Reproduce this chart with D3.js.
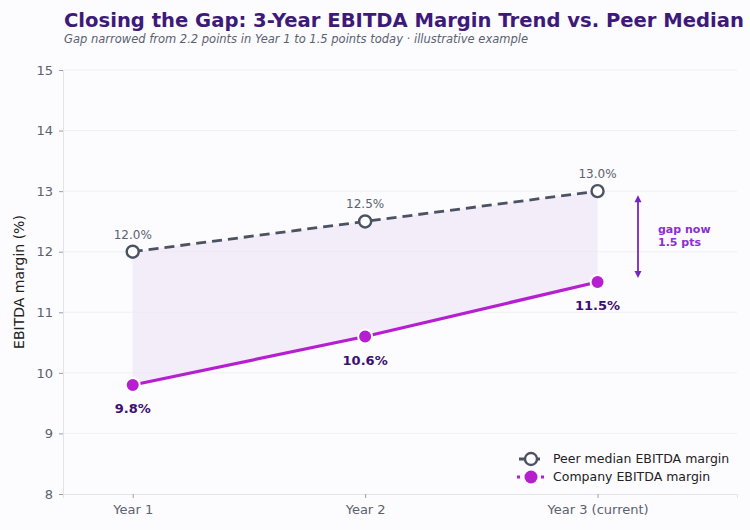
<!DOCTYPE html>
<html><head><meta charset="utf-8">
<script src="https://cdn.jsdelivr.net/npm/d3@7"></script>
<style>body{margin:0;background:#fcfbfd;font-family:"DejaVu Sans",sans-serif}</style>
</head><body><svg id="c" width="750" height="530"></svg>
<script>
const categories = ["Year 1","Year 2","Year 3 (current)"];
const peerValues = [12.0,12.5,13.0];
const companyValues = [9.8,10.6,11.5];
const yTicks = [8,9,10,11,12,13,14,15];

const svg = d3.select("#c");
const x = d3.scaleLinear().domain([-0.3,2.6]).range([63,737]);
const y = d3.scaleLinear().domain([8,15]).range([494,70]);

svg.append("rect").attr("width",750).attr("height",530).attr("fill","#fcfbfd");
svg.append("g").selectAll("line").data(yTicks.slice(1)).join("line")
  .attr("x1",63).attr("x2",737).attr("y1",d=>y(d)).attr("y2",d=>y(d))
  .attr("stroke","#eeecf2").attr("stroke-width",0.8);
const ya = svg.append("g").attr("transform","translate(63,0)").call(d3.axisLeft(y).tickValues(yTicks).tickSize(4).tickPadding(6).tickFormat(d3.format("d")));
const xa = svg.append("g").attr("transform","translate(0,494)").call(d3.axisBottom(x).tickValues([0,1,2]).tickSize(4).tickPadding(7).tickFormat(i=>categories[i]));
[ya,xa].forEach(a=>{a.select(".domain").attr("stroke","#e2e4ea");a.selectAll(".tick line").attr("stroke","#9aa0aa");
  a.selectAll("text").attr("fill","#5b6270").attr("font-size",13).attr("font-family","DejaVu Sans");});
svg.append("text").attr("transform","translate(24,282) rotate(-90)").attr("text-anchor","middle")
  .attr("font-size",14).attr("fill","#222").text("EBITDA margin (%)");

const idx = d3.range(categories.length);
svg.append("path").datum(idx).attr("fill","#ece2f6").attr("opacity",0.6)
  .attr("d",d3.area().x(i=>x(i)).y0(i=>y(companyValues[i])).y1(i=>y(peerValues[i])));

svg.append("path").datum(idx).attr("fill","none").attr("stroke","#4b5262").attr("stroke-width",2.8)
  .attr("stroke-dasharray","10,6").attr("d",d3.line().x(i=>x(i)).y(i=>y(peerValues[i])));
svg.append("g").selectAll("circle").data(idx).join("circle").attr("cx",i=>x(i)).attr("cy",i=>y(peerValues[i]))
  .attr("r",6).attr("fill","#fff").attr("stroke","#4b5262").attr("stroke-width",2.4);
svg.append("g").selectAll("text").data(idx).join("text").attr("x",i=>x(i)).attr("y",i=>y(peerValues[i])-13)
  .attr("text-anchor","middle").attr("font-size",12).attr("fill","#5b6270").text(i=>peerValues[i].toFixed(1)+"%");

svg.append("path").datum(idx).attr("fill","none").attr("stroke","#b51fd0").attr("stroke-width",3.2)
  .attr("d",d3.line().x(i=>x(i)).y(i=>y(companyValues[i])));
svg.append("g").selectAll("circle").data(idx).join("circle").attr("cx",i=>x(i)).attr("cy",i=>y(companyValues[i]))
  .attr("r",7).attr("fill","#b51fd0").attr("stroke","#fff").attr("stroke-width",2);
svg.append("g").selectAll("text").data(idx).join("text").attr("x",i=>x(i)).attr("y",i=>y(companyValues[i])+28)
  .attr("text-anchor","middle").attr("font-size",13).attr("font-weight","bold").attr("fill","#3b1070").text(i=>companyValues[i].toFixed(1)+"%");

const ax = 638, c = "#7427c0";
svg.append("line").attr("x1",ax).attr("x2",ax).attr("y1",y(13)+6).attr("y2",y(11.5)-6).attr("stroke",c).attr("stroke-width",1.8);
svg.append("path").attr("d",`M${ax-3.5},${y(13)+11}L${ax},${y(13)+4}L${ax+3.5},${y(13)+11}Z`).attr("fill",c);
svg.append("path").attr("d",`M${ax-3.5},${y(11.5)-11}L${ax},${y(11.5)-4}L${ax+3.5},${y(11.5)-11}Z`).attr("fill",c);
svg.append("text").attr("x",658).attr("y",233).attr("font-size",11).attr("font-weight","bold").attr("fill","#8a2fd0").text("gap now");
svg.append("text").attr("x",658).attr("y",246).attr("font-size",11).attr("font-weight","bold").attr("fill","#8a2fd0").text("1.5 pts");

const lg = svg.append("g");
lg.append("line").attr("x1",519).attr("x2",543).attr("y1",459).attr("y2",459).attr("stroke","#4b5262").attr("stroke-width",2.8).attr("stroke-dasharray","8,5");
lg.append("circle").attr("cx",531).attr("cy",459).attr("r",6).attr("fill","#fff").attr("stroke","#4b5262").attr("stroke-width",2.4);
lg.append("line").attr("x1",517).attr("x2",545).attr("y1",477).attr("y2",477).attr("stroke","#b51fd0").attr("stroke-width",3.2).attr("stroke-dasharray","3,5");
lg.append("circle").attr("cx",531).attr("cy",477).attr("r",6.5).attr("fill","#b51fd0");
lg.append("text").attr("x",553).attr("y",463).attr("font-size",12.5).attr("fill","#222").text("Peer median EBITDA margin");
lg.append("text").attr("x",553).attr("y",481).attr("font-size",12.5).attr("fill","#222").text("Company EBITDA margin");

svg.append("text").attr("x",64).attr("y",27).attr("font-size",19.5).attr("font-weight","bold").attr("fill","#3d1a7a")
  .attr("textLength",680).attr("lengthAdjust","spacingAndGlyphs")
  .text("Closing the Gap: 3-Year EBITDA Margin Trend vs. Peer Median");
svg.append("text").attr("x",64).attr("y",43).attr("font-size",11.5).attr("font-style","italic").attr("fill","#5b6270")
  .text("Gap narrowed from 2.2 points in Year 1 to 1.5 points today · illustrative example");
</script></body></html>
